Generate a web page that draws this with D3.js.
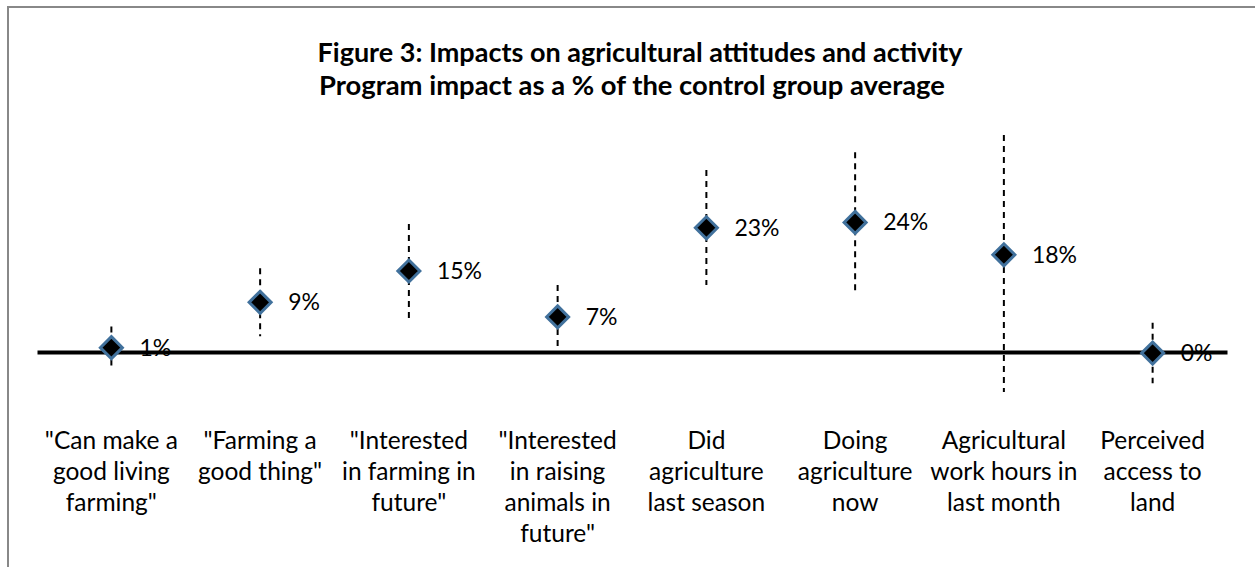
<!DOCTYPE html>
<html><head><meta charset="utf-8">
<script src="https://cdn.jsdelivr.net/npm/d3@7/dist/d3.min.js"></script>
<style>body{margin:0;background:#fff}svg{display:block}</style>
</head><body>
<svg id="c" width="1255" height="567"></svg>
<script>
const categories = [
  ['"Can make a','good living','farming"'],
  ['"Farming a','good thing"'],
  ['"Interested','in farming in','future"'],
  ['"Interested','in raising','animals in','future"'],
  ['Did','agriculture','last season'],
  ['Doing','agriculture','now'],
  ['Agricultural','work hours in','last month'],
  ['Perceived','access to','land']
];
const impacts = [0.8, 9.2, 15.0, 6.5, 23.0, 24.0, 18.0, -0.2];
const errorUp = [3.9, 6.3, 8.7, 5.9, 10.7, 13.0, 22.2, 5.6];
const errorDown = [3.7, 6.3, 8.7, 5.7, 10.6, 12.8, 25.4, 5.6];
const valueLabels = ['1%','9%','15%','7%','23%','24%','18%','0%'];
const title = 'Figure 3: Impacts on agricultural attitudes and activity';
const subtitle = 'Program impact as a % of the control group average';

const svg = d3.select('#c');
const font = 'Lato, "Open Sans", sans-serif';

svg.append('rect').attr('x',8).attr('y',7).attr('width',1300).attr('height',600)
  .attr('fill','#fff').attr('stroke','#888').attr('stroke-width',2);

svg.append('text').attr('x',640).attr('y',62).attr('text-anchor','middle')
  .attr('font-family',font).attr('font-weight','bold').attr('font-size',27).text(title);
svg.append('text').attr('x',632).attr('y',95).attr('text-anchor','middle')
  .attr('font-family',font).attr('font-weight','bold').attr('font-size',27.4).text(subtitle);

const x = d3.scaleBand().domain(d3.range(categories.length)).range([37,1227]);
const y = d3.scaleLinear().domain([0,24]).range([352,352-24*5.4]);

// axis line
const axis = svg.append('g').attr('transform',`translate(0,${y(0)})`)
  .call(d3.axisBottom(x).tickSize(0).tickFormat(''));
axis.select('.domain').attr('stroke','#000').attr('stroke-width',4);

// error bars
svg.selectAll('.err').data(impacts).join('line')
  .attr('x1',(d,i)=>x(i)+x.bandwidth()/2).attr('x2',(d,i)=>x(i)+x.bandwidth()/2)
  .attr('y1',(d,i)=>y(d+errorUp[i])).attr('y2',(d,i)=>y(d-errorDown[i]))
  .attr('stroke','#000').attr('stroke-width',2).attr('stroke-dasharray','6,5');

// markers
svg.selectAll('.pt').data(impacts).join('path')
  .attr('transform',(d,i)=>`translate(${x(i)+x.bandwidth()/2},${y(d)})`)
  .attr('d','M0,-11L11,0L0,11L-11,0Z')
  .attr('fill','#000').attr('stroke','#41719C').attr('stroke-width',3);

// value labels
svg.selectAll('.vl').data(impacts).join('text')
  .attr('x',(d,i)=>x(i)+x.bandwidth()/2+28).attr('y',d=>y(d)+8)
  .attr('font-family',font).attr('font-size',23).text((d,i)=>valueLabels[i]);

// category labels
const cl = svg.selectAll('.cl').data(categories).join('text')
  .attr('text-anchor','middle').attr('font-family',font).attr('font-size',24.5);
cl.selectAll('tspan').data((d,i)=>d.map(s=>({s,i}))).join('tspan')
  .attr('x',d=>x(d.i)+x.bandwidth()/2).attr('y',(d,j)=>449+j*31).text(d=>d.s);
</script>
</body></html>
